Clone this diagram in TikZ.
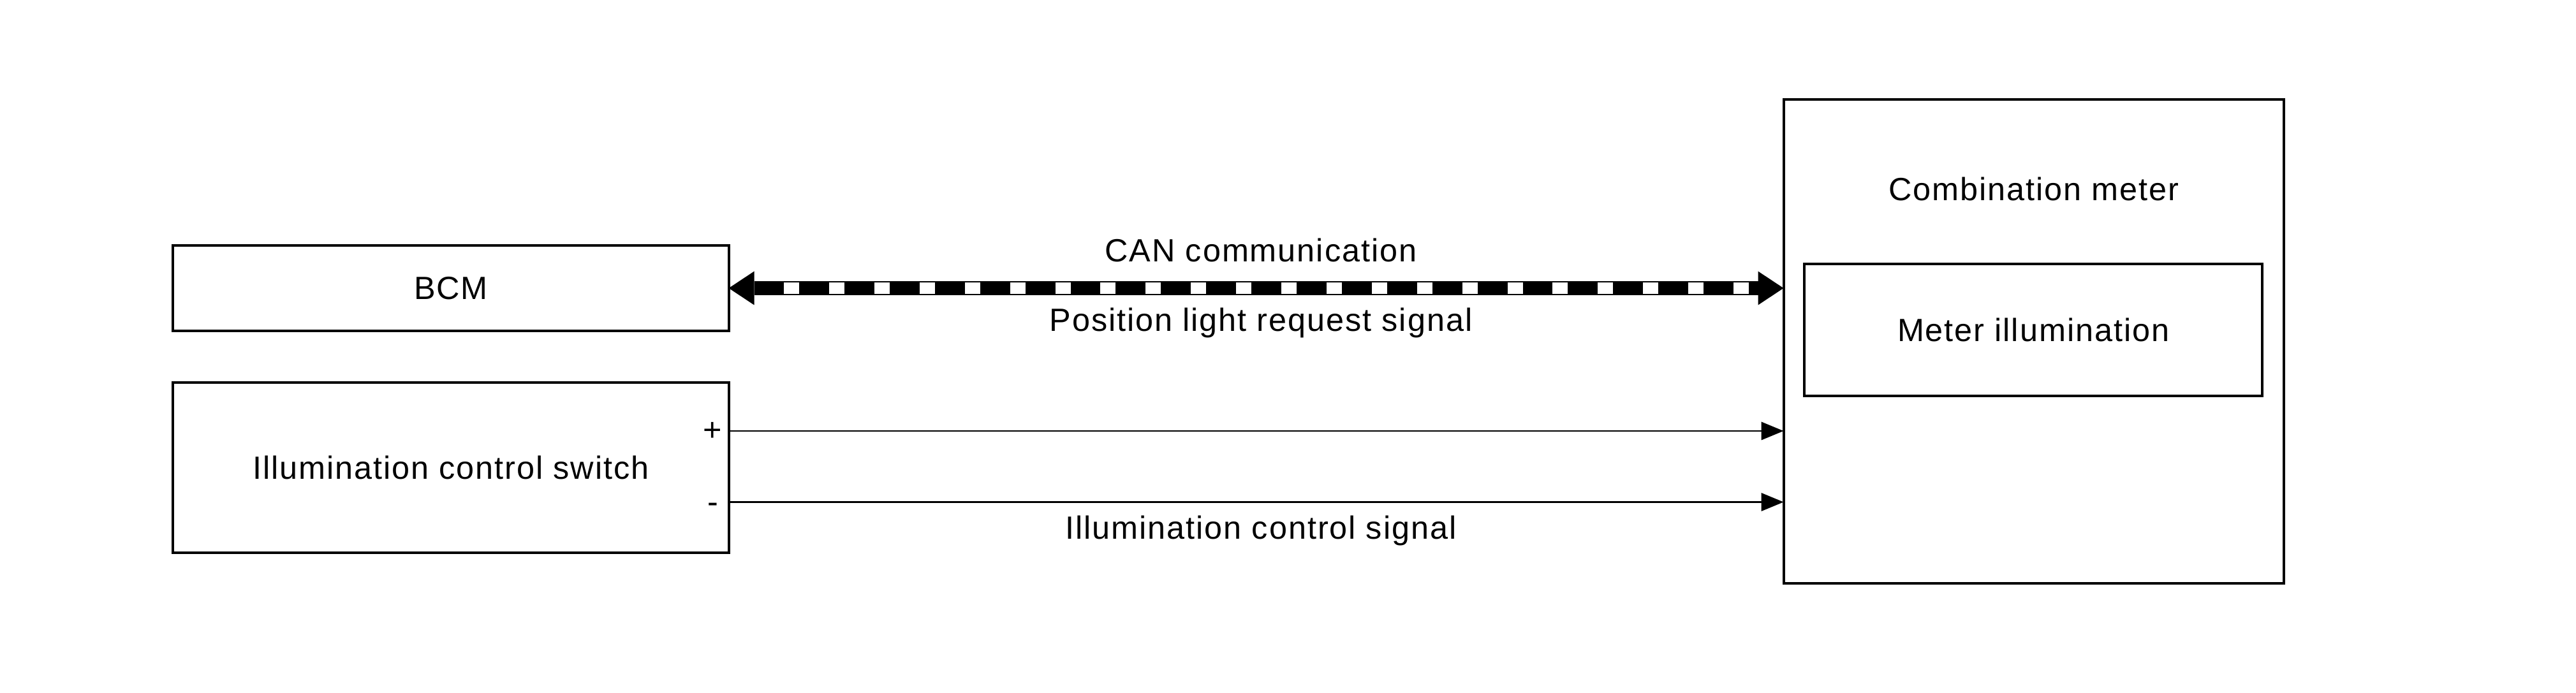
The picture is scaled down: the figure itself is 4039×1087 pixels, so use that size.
\documentclass[tikz,border=0pt]{standalone}
\usepackage{fontspec}
\setmainfont{Liberation Sans}[LetterSpace=3.9]
\usetikzlibrary{arrows.meta,calc}
\begin{document}
\begin{tikzpicture}[x=0.25pt,y=-0.25pt,
  box/.style={draw,line width=1pt,inner sep=0pt,outer sep=0pt,text height=9pt,text depth=0pt,font=\fontsize{12.6}{15}\selectfont},
  lbl/.style={inner sep=0pt,outer sep=0pt,anchor=base,font=\fontsize{12.6}{15}\selectfont},
  sig/.style={line width=0.7pt,-{Triangle[length=8.75pt,width=7.25pt,line width=0pt]}},
  bus/.style={line width=5.675pt,{Triangle[length=10pt,width=13.25pt,line width=0pt]}-{Triangle[length=10pt,width=13.25pt,line width=0pt]}},
  busdash/.style={white,line width=4.6pt,dash pattern=on 6pt off 11.725pt}
  ]
\useasboundingbox[fill=white] (0,0) rectangle (4039,1087);
\node[box,minimum width=217.8pt,minimum height=33.5pt] (bcm) at (707,452) {BCM};
\node[box,minimum width=217.8pt,minimum height=66.75pt] (sw) at (707,733.5) {Illumination control switch};
\node[box,minimum width=196.05pt,minimum height=189.7pt] (cm) at (3188.6,535.6) {};
\node[box,minimum width=179.4pt,minimum height=51.7pt] (mi) at (3188.2,517.4) {Meter illumination};
\node[lbl] (cmt) at (3189,315) {Combination meter};
\draw[bus] (bcm.east) -- (bcm.east -| cm.west);
\draw[busdash] ($(bcm.east)+(86.5,0)$) -- ($(bcm.east)+(1599.3,0)$);
\node[lbl] (can) at (1977,411) {CAN communication};
\node[lbl] (pos) at (1977,520) {Position light request signal};
\coordinate (pp) at ($(sw.east)+(0,-57.5)$);
\coordinate (mm) at ($(sw.east)+(0,54)$);
\draw[sig] (pp) -- (pp -| cm.west);
\draw[sig] (mm) -- (mm -| cm.west);
\node[lbl] (plus) at (1117.7,692) {+};
\node[lbl] (minus) at (1117.7,805) {-};
\node[lbl] (ics) at (1977,846) {Illumination control signal};
\end{tikzpicture}
\end{document}
